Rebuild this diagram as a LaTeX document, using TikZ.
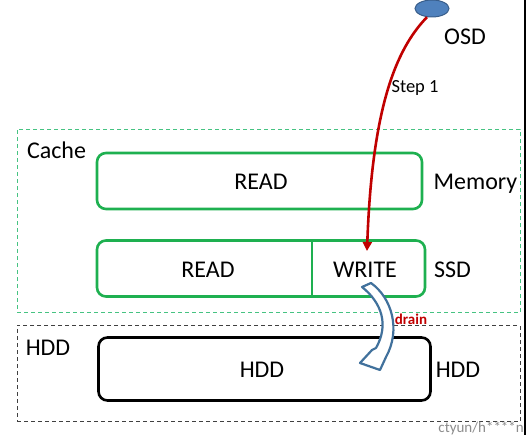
\documentclass[tikz,border=0pt]{standalone}
\usepackage{fontspec}
\setmainfont{Carlito}
\usetikzlibrary{arrows.meta,shapes.geometric}
\definecolor{boxgreen}{RGB}{30,176,80}
\definecolor{cachegreen}{RGB}{70,195,130}
\definecolor{darkred}{RGB}{192,0,0}
\definecolor{osdblue}{RGB}{79,129,189}
\definecolor{osdedge}{RGB}{56,93,138}
\definecolor{drainblue}{RGB}{65,113,156}
\begin{document}
\begin{tikzpicture}[x=1pt,y=-1pt,
  lbl/.style={font=\fontsize{24}{28}\selectfont, inner sep=0pt},
  gbox/.style={draw=boxgreen, line width=2.6pt, rounded corners=9pt, inner sep=0pt},
  kbox/.style={draw=black, line width=2.6pt, rounded corners=9pt, inner sep=0pt},
  dbox/.style={line width=0.8pt, dash pattern=on 4pt off 3pt, inner sep=0pt},
]
\useasboundingbox (0,0) rectangle (527,435);
% right edge line
\draw[line width=2pt] (525,0) -- (525,435);

% group boxes
\node[dbox, draw=cachegreen, minimum width=503pt, minimum height=183pt] (cache) at (268.5,221) {};
\node[dbox, draw=black!75, minimum width=503pt, minimum height=96pt] (hddgrp) at (268.5,373.5) {};

% memory
\node[gbox, minimum width=325pt, minimum height=56pt] (mem) at (259.5,181) {};
\node[lbl] (memread) at (261,182) {READ};
\node[lbl, anchor=base] (memlbl) at (475.5,189.7) {Memory};
\node[lbl, anchor=base] (cachelbl) at (56.5,158.7) {Cache};

% ssd
\node[gbox, minimum width=328pt, minimum height=56pt] (ssd) at (261,268.5) {};
\coordinate (divtop) at (312,240.5);
\coordinate (divbot) at (312,296.5);
\draw[boxgreen, line width=2.2pt] (divtop) -- (divbot);
\node[lbl] (ssdread) at (208,270) {READ};
\node[lbl] (ssdwrite) at (365,270) {WRITE};
\node[lbl] (ssdlbl) at (452.5,270) {SSD};

% hdd
\node[kbox, minimum width=332pt, minimum height=63pt] (hdd) at (264.5,369) {};
\node[lbl] (hddin) at (262,370) {HDD};
\node[lbl] (hddlbl) at (458,370) {HDD};
\node[lbl] (hddgrplbl) at (48,348) {HDD};

% OSD
\node[ellipse, fill=osdblue, draw=osdedge, line width=1pt, minimum width=34pt, minimum height=17pt, inner sep=0pt] (osd) at (432,8.5) {};
\node[lbl] (osdlbl) at (465,37) {OSD};

% step 1 arrow
\coordinate (wtip) at (367,251);
\draw[darkred, line width=2.6pt, -{Triangle[length=9pt,width=9pt]}] (osd.240) .. controls (395,50) and (372,110) .. (wtip);
\node[font=\fontsize{18.5}{22}\selectfont, inner sep=0pt, anchor=base] (step) at (415,93) {Step 1};

% drain arrow
\filldraw[fill=white, draw=drainblue, line width=2.2pt, line join=round]
  (371,283) .. controls (392,298) and (401,330) .. (386,357)
  -- (380,370) -- (360,363) -- (372,350) -- (376,348)
  .. controls (389,325) and (382,303) .. (362,287) -- cycle;
\node[font=\fontsize{15}{17}\selectfont\bfseries, text=darkred, inner sep=0pt, anchor=base] (drain) at (411,324) {drain};

% watermark
\node[font=\fontsize{15}{17}\selectfont, text=black!45, inner sep=0pt, anchor=base east] (wm) at (524,432) {ctyun/h****n};
\end{tikzpicture}
\end{document}
